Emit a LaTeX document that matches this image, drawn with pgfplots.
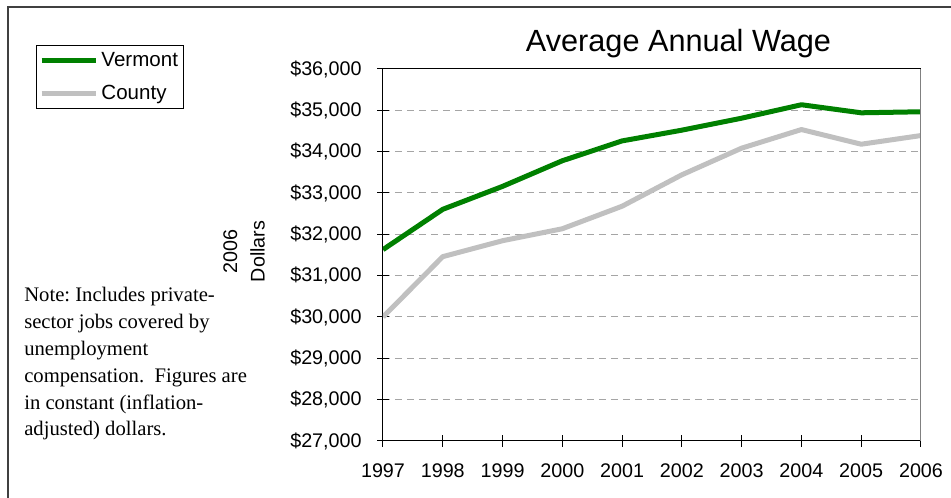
\documentclass[border=0pt]{standalone}
\usepackage{fontspec}
\setmainfont{Liberation Sans}
\newfontfamily\notefont{Liberation Serif}
\usepackage{pgfplots}
\pgfplotsset{compat=1.18}
\definecolor{vtgreen}{RGB}{0,128,0}
\definecolor{cntgray}{RGB}{192,192,192}
\definecolor{gridgray}{RGB}{165,165,165}
\definecolor{framegray}{RGB}{64,64,64}

\begin{document}
\begin{tikzpicture}[x=0.75pt,y=0.75pt]
\useasboundingbox (0,0) rectangle (951,498);
% outer frame (only top and left edges are visible in the image)
\draw[line width=1.5pt, framegray] (8,0) -- (8,491) -- (955,491);
\coordinate (o) at (383,57);
\begin{axis}[
  at={(o)}, anchor=south west,
  scale only axis, width=403.5pt, height=279pt,
  xmin=1997, xmax=2006, ymin=27000, ymax=36000,
  xtick={1997,1998,...,2006},
  ytick={27000,28000,...,36000},
  scaled y ticks=false,
  xtick pos=left, ytick pos=left,
  tick align=center, major tick length=9pt,
  every tick/.style={black, line width=0.75pt},
  axis line style={line width=0.75pt},
  /pgf/number format/assume math mode=true,
  tick label style={font=\fontsize{14.8}{17}\selectfont},
  xticklabel={\pgfmathprintnumber[1000 sep={}]{\tick}},
  yticklabel={\$\pgfmathprintnumber[fixed,1000 sep={,}]{\tick}},
  xticklabel style={yshift=-9pt},
  yticklabel style={xshift=-8pt},
  ymajorgrids=true,
  major grid style={gridgray, line width=0.75pt, dash pattern=on 5.25pt off 3.75pt},
  legend style={at={(axis description cs:-0.645,1.0645)}, anchor=north west,
    draw=black, line width=0.75pt, font=\fontsize{15.4}{18}\selectfont,
    inner xsep=2pt, inner ysep=3.5pt, row sep=8pt,
    cells={anchor=west}},
  legend image code/.code={\draw[#1] (0pt,0pt) -- (41pt,0pt);},
]
\addplot[vtgreen, line width=3.75pt, line join=round] coordinates {
  (1997,31630) (1998,32605) (1999,33160) (2000,33780) (2001,34260)
  (2002,34520) (2003,34810) (2004,35135) (2005,34940) (2006,34965)};
\addlegendentry{Vermont}
\addplot[cntgray, line width=3.75pt, line join=round] coordinates {
  (1997,30000) (1998,31460) (1999,31845) (2000,32135) (2001,32680)
  (2002,33440) (2003,34085) (2004,34535) (2005,34180) (2006,34390)};
\addlegendentry{County}
\draw[gray, line width=1pt] (rel axis cs:1,0) -- (rel axis cs:1,1);
\end{axis}
\node[font=\fontsize{23}{27}\selectfont] at (678.5,454) {Average Annual Wage};
\node[rotate=90, align=center, font=\fontsize{14.8}{20.6}\selectfont] at (244,246.5) {2006\\Dollars};
\begin{scope}[font=\notefont\frenchspacing\fontsize{15.5}{20}\selectfont]
\node[anchor=base west, inner sep=0pt] at (24,196) {Note: Includes private-};
\node[anchor=base west, inner sep=0pt] at (24,169.2) {sector jobs covered by};
\node[anchor=base west, inner sep=0pt] at (24,142.4) {unemployment};
\node[anchor=base west, inner sep=0pt] at (24,115.6) {compensation.\ \ Figures are};
\node[anchor=base west, inner sep=0pt] at (24,88.8) {in constant (inflation-};
\node[anchor=base west, inner sep=0pt] at (24,62) {adjusted) dollars.};
\end{scope}
\end{tikzpicture}
\end{document}
